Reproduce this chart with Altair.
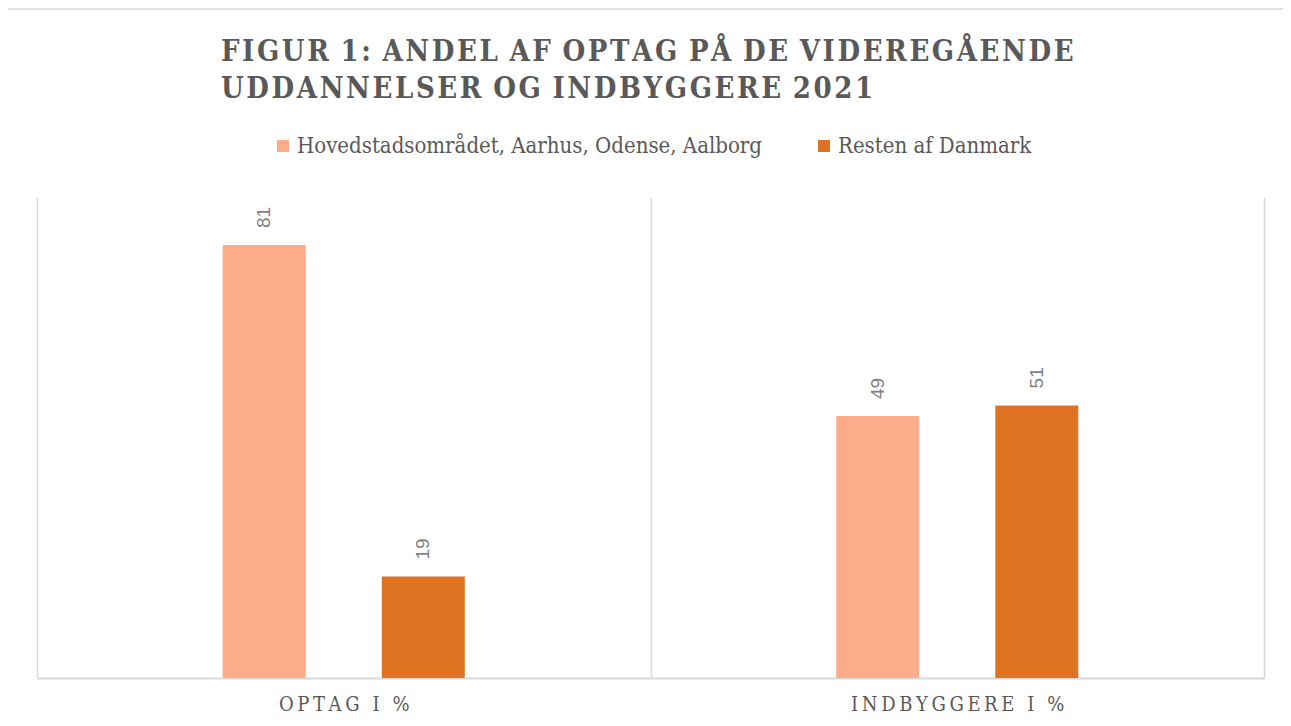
import altair as alt
import pandas as pd

categories = ["OPTAG I %", "INDBYGGERE I %"]
series = ["Hovedstadsområdet, Aarhus, Odense, Aalborg", "Resten af Danmark"]
values_hoved = [81, 49]
values_resten = [19, 51]
colors = ["#FDAC89", "#E07322"]

title_lines = ["FIGUR 1: ANDEL AF OPTAG PÅ DE VIDEREGÅENDE",
               "UDDANNELSER OG INDBYGGERE 2021"]

rows = []
for i, c in enumerate(categories):
    rows.append({"kategori": c, "gruppe": series[0], "andel": values_hoved[i]})
    rows.append({"kategori": c, "gruppe": series[1], "andel": values_resten[i]})
df = pd.DataFrame(rows)

hair = "\u200a"


def spaced(t):
    # hair spaces between letters (letter-spacing look), slightly wider word gaps
    return (hair + " ").join(hair.join(list(w)) for w in t.split(" "))


title_spaced = [spaced(t) for t in title_lines]
sep = "\u2009"

SERIF = "'DejaVu Serif Condensed', 'Liberation Serif', serif"
GRID = "#d9d9d9"
TEXT = "#595959"

x = alt.X(
    "kategori:N", sort=categories,
    scale=alt.Scale(paddingInner=0, paddingOuter=0),
    axis=alt.Axis(
        title=None, labelAngle=0, ticks=False, grid=True, gridColor=GRID,
        gridWidth=1.5, tickBand="extent", domainColor=GRID, domainWidth=2,
        labelFont=SERIF, labelFontSize=20, labelColor=TEXT, labelPadding=16,
        labelLimit=0,
        labelExpr="join(split(datum.label, ''), '" + sep + "')",
    ),
)
xo = alt.XOffset("gruppe:N", sort=series,
                 scale=alt.Scale(paddingInner=0, paddingOuter=0.928))
y = alt.Y("andel:Q", scale=alt.Scale(domain=[0, 90]), axis=None)

bars = alt.Chart(df).mark_bar(width=83).encode(
    x=x, xOffset=xo, y=y,
    color=alt.Color(
        "gruppe:N", sort=series,
        scale=alt.Scale(domain=series, range=colors),
        legend=alt.Legend(
            title=None, orient="none", legendX=235, legendY=-62,
            direction="horizontal", symbolType="square", symbolSize=144,
            symbolStrokeWidth=0, labelFont=SERIF, labelFontSize=22,
            labelColor=TEXT, columnPadding=51, labelLimit=0, labelOffset=3,
            padding=0,
        ),
    ),
)

labels = alt.Chart(df).mark_text(
    angle=270, align="left", baseline="middle", dx=17,
    font="Liberation Sans", fontSize=19, color="#7f7f7f",
).encode(x=x, xOffset=xo, y=y, text="andel:Q")

frame_top = alt.Chart(alt.Data(values=[{}])).mark_rule(
    color=GRID, strokeWidth=1.5
).encode(x=alt.value(-30.5), x2=alt.value(1260), y=alt.value(-188))
frame_left = alt.Chart(alt.Data(values=[{}])).mark_rule(
    color=GRID, strokeWidth=1.5
).encode(x=alt.value(-30.5), y=alt.value(-188), y2=alt.value(560))

chart = alt.layer(frame_top, frame_left, bars, labels).properties(
    width=1227, height=481,
    autosize=alt.AutoSizeParams(type="none"),
    padding={"left": 29, "top": 189, "right": 19, "bottom": 40},
    title=alt.TitleParams(
        text=title_spaced, anchor="start", frame="group", dx=184,
        offset=-96, font=SERIF, fontSize=29, fontWeight="bold",
        color=TEXT, lineHeight=37,
    ),
).configure_view(stroke=None)

chart.save("out.html", embed_options={"renderer": "svg", "actions": False})
